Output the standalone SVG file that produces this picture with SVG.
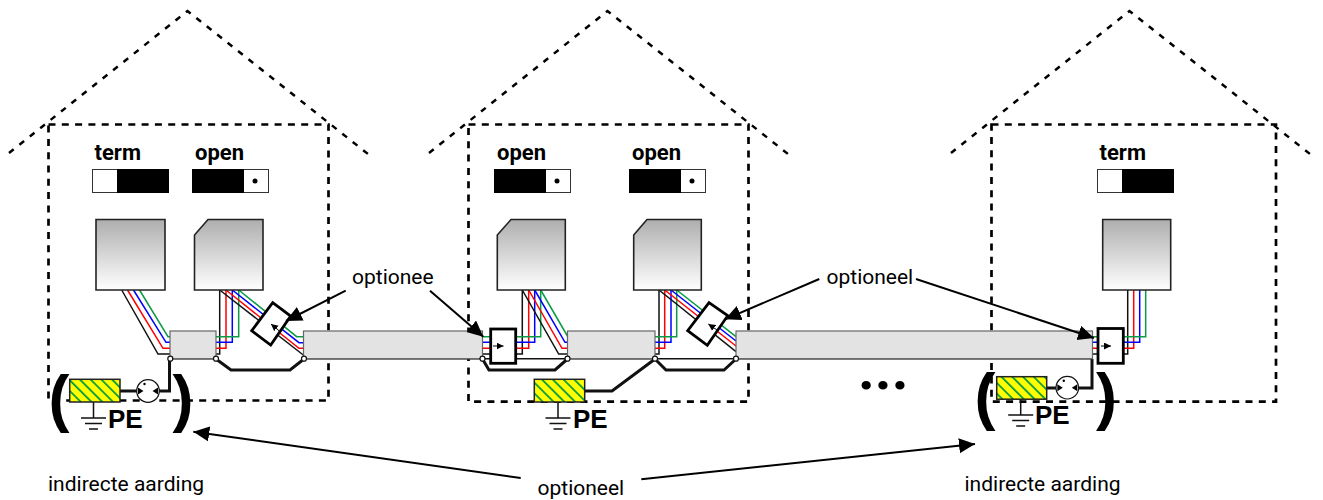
<svg xmlns="http://www.w3.org/2000/svg" width="1323" height="500" viewBox="0 0 1323 500">
<style>
text{font-family:Roboto,"Liberation Sans",sans-serif;fill:#000}
.lbl{font-size:21px}
.sw{font-size:22px;font-weight:700}
.pe{font-family:"Liberation Sans",Arial,sans-serif;font-size:26px;font-weight:700}
.par{font-family:"Liberation Sans",Arial,sans-serif;font-size:63px;font-weight:700}
.roof{fill:none;stroke:#000;stroke-width:2.500;stroke-dasharray:6 7.300}
.room{fill:none;stroke:#000;stroke-width:2.700;stroke-dasharray:7 6.300}
.box{fill:url(#grad);stroke:#222;stroke-width:1.600}
.grey{fill:#e3e3e3;stroke:#666;stroke-width:1.200}
.w{fill:none;stroke-width:1.500}
.k{stroke:#111}.r{stroke:#f00}.b{stroke:#00f}.g{stroke:#0a9b44}
.thick{fill:none;stroke:#111;stroke-width:3}
.thin{fill:none;stroke:#111;stroke-width:1.500}
.node{fill:#fff;stroke:#111;stroke-width:1.200}
.wh{fill:#fff;stroke:#333;stroke-width:1}
.bl{fill:#000;stroke:#000}
.ins{fill:#fff;stroke:#000;stroke-width:2.800}
.call{fill:none;stroke:#000;stroke-width:2;marker-end:url(#big)}
.mini{fill:none;stroke:#000;stroke-width:1;marker-end:url(#small)}
.pebox{fill:url(#hatch);stroke:#222;stroke-width:1.500}
.circ{fill:#fff;stroke:#111;stroke-width:1.200}
</style>
<defs>
<linearGradient id="grad" x1="0" y1="0" x2="0" y2="1"><stop offset="0" stop-color="#aeaeae"/><stop offset="1" stop-color="#fff"/></linearGradient>
<pattern id="hatch" patternUnits="userSpaceOnUse" width="7.600" height="7.600" patternTransform="rotate(-45)"><rect width="7.600" height="7.600" fill="#ff0"/><rect x="0" width="1.800" height="7.600" fill="#0a9b44"/></pattern>
<marker id="big" markerUnits="userSpaceOnUse" markerWidth="18" markerHeight="16" refX="16" refY="7.500" orient="auto"><path d="M0 0L16 7.500L0 15z" fill="#000"/></marker>
<marker id="small" markerUnits="userSpaceOnUse" markerWidth="8" markerHeight="8" refX="7" refY="3.500" orient="auto"><path d="M0 0L7 3.500L0 7z" fill="#000"/></marker>
<g id="gnd"><path class="thin" d="M0 0V16M-12.500 16H12.500M-8.500 21.500H8.500M-4.500 27H4.500"/></g>
<g id="coup"><circle class="circ" r="11.300"/><path d="M-10 -3.500L-4.500 0L-10 3.500zM10 -3.500L4.500 0L10 3.500z" fill="#000"/><circle cx="-3.500" cy="-7" r="1.200" fill="#000"/></g>
</defs>

<g id="house-1"><path class="roof" d="M9 153L187.500 11L368 154"/><rect class="room" x="48.500" y="124.500" width="280" height="276"/></g>
<g id="house-2"><path class="roof" d="M429 153L607.500 11L788 154"/><rect class="room" x="468.500" y="124.500" width="280" height="277.200"/></g>
<g id="house-3"><path class="roof" d="M951 153L1129.500 11L1310 154"/><rect class="room" x="991.500" y="124.500" width="284.500" height="277.200"/></g>

<g id="connectors">
<path class="w k" d="M121.700 290L158 354H170"/><path class="w r" d="M127.500 290L163 348.300H170"/><path class="w b" d="M133.500 290L166 342.300H170"/><path class="w g" d="M139.500 290L168 336.700H170"/>
<path class="w k" d="M219.700 290V354H216"/><path class="w r" d="M226 290V348.300H216"/><path class="w b" d="M232.300 290V342.300H216"/><path class="w g" d="M238.700 290V336.700H216"/>
<path class="w k" d="M219.700 290L303.300 355"/><path class="w r" d="M226 290L299 348.300H303"/><path class="w b" d="M232.300 290L299 342.700H303"/><path class="w g" d="M238.700 290L296.700 336.700H303"/>
<path class="w k" d="M522.300 290V354H483"/><path class="w r" d="M528.700 290V348.300H483"/><path class="w b" d="M534.700 290V342.300H483"/><path class="w g" d="M540.700 290V336.700H483"/>
<path class="w k" d="M522.300 290L558.700 354H568"/><path class="w r" d="M528.700 290L562 348.300H568"/><path class="w b" d="M534.700 290L565 342.300H568"/><path class="w g" d="M540.700 290L568 337"/>
<path class="w k" d="M659 290V354H655"/><path class="w r" d="M664.700 290V348.300H655"/><path class="w b" d="M671 290V342.300H655"/><path class="w g" d="M676.700 290V336.700H655"/>
<path class="w k" d="M659 290L736 351.600"/><path class="w r" d="M664.700 290L736 346"/><path class="w b" d="M671 290L736 341"/><path class="w g" d="M676.700 290L736 336.700"/>
<path class="w k" d="M1127.700 290V354H1093"/><path class="w r" d="M1133.700 290V348.300H1093"/><path class="w b" d="M1139.700 290V342.300H1093"/><path class="w g" d="M1145.700 290V336.700H1093"/>
<path class="thin" d="M170 358.700H216M303 358.700H1092"/>
<path class="thick" d="M216 359L231 370H290L304 359"/>
<path class="thick" d="M482.500 359L489 370H555L567.500 359"/>
<path class="thick" d="M655 359L666 370H724L736 359"/>
<path class="thick" d="M120 391H137M159 391H169.500V359"/>
<path class="thick" d="M584.700 391H612L655 359"/>
<path class="thick" d="M1046.700 388H1056M1078.500 388H1092V359"/>
</g>

<g id="cable-1"><rect class="grey" x="170" y="331" width="46" height="27.700"/></g>
<g id="cable-2"><rect class="grey" x="303.500" y="331" width="179" height="27.700"/></g>
<g id="cable-3"><rect class="grey" x="567.500" y="331" width="87.500" height="27.700"/></g>
<g id="cable-4"><rect class="grey" x="736" y="331" width="356.500" height="27.700"/></g>

<g id="junctions">
<circle class="node" cx="170.300" cy="358.700" r="2.500"/><circle class="node" cx="216" cy="358.700" r="2.500"/><circle class="node" cx="304" cy="358.700" r="2.500"/>
<circle class="node" cx="482.500" cy="358.700" r="2.500"/><circle class="node" cx="567.500" cy="358.700" r="2.500"/><circle class="node" cx="655" cy="358.700" r="2.500"/><circle class="node" cx="736" cy="358.700" r="2.500"/>
</g>

<g id="device-1"><text class="sw" x="94.500" y="160">term</text><rect class="wh" x="92.500" y="169.500" width="76" height="23"/><rect class="bl" x="117.500" y="169.500" width="51" height="23"/><path class="box" d="M96 219.500H165V290H96z"/></g>
<g id="device-2"><text class="sw" x="195" y="160">open</text><rect class="wh" x="192.500" y="169.500" width="76" height="23"/><rect class="bl" x="192.500" y="169.500" width="51" height="23"/><circle cx="255" cy="181" r="2.500" fill="#000"/><path class="box" d="M208 219.500H263V290H194.500V235z"/></g>
<g id="device-3"><text class="sw" x="497" y="160">open</text><rect class="wh" x="494.500" y="169.500" width="76" height="23"/><rect class="bl" x="494.500" y="169.500" width="51" height="23"/><circle cx="557" cy="181" r="2.500" fill="#000"/><path class="box" d="M511 219.500H565.300V290H497.300V235z"/></g>
<g id="device-4"><text class="sw" x="632" y="160">open</text><rect class="wh" x="629.500" y="169.500" width="76" height="23"/><rect class="bl" x="629.500" y="169.500" width="51" height="23"/><circle cx="692" cy="181" r="2.500" fill="#000"/><path class="box" d="M647 219.500H701.300V290H633.700V235z"/></g>
<g id="device-5"><text class="sw" x="1099.500" y="160">term</text><rect class="wh" x="1097.500" y="169.500" width="76" height="23"/><rect class="bl" x="1122.500" y="169.500" width="51" height="23"/><path class="box" d="M1102.700 219.500H1170.700V290H1102.700z"/></g>

<g id="opt-1"><path class="ins" d="M272.700 302.700L290.700 316L270.700 345L251.700 330.700z"/><path class="mini" d="M279 330.700L271 324"/></g>
<g id="opt-2"><rect class="ins" x="490.700" y="329" width="25" height="34.300"/><path class="mini" d="M493 346H503.500"/></g>
<g id="opt-3"><path class="ins" d="M709 302.700L727.700 315.700L707.300 345.300L687.700 330.700z"/><path class="mini" d="M718 330.700L708.300 324"/></g>
<g id="opt-4"><rect class="ins" x="1098" y="328.500" width="25.300" height="34.800"/><path class="mini" d="M1101 346H1111"/></g>

<g id="pe-1"><use href="#gnd" x="93.500" y="402"/><rect class="pebox" x="69.700" y="379.300" width="50.300" height="22.700"/><use href="#coup" x="148" y="391"/><text class="pe" x="108" y="428">PE</text></g>
<g id="pe-2"><use href="#gnd" x="558" y="402"/><rect class="pebox" x="534.300" y="379.300" width="50.400" height="22.700"/><text class="pe" x="573" y="428">PE</text></g>
<g id="pe-3"><use href="#gnd" x="1020.700" y="399"/><rect class="pebox" x="996.700" y="376.700" width="50" height="22.500"/><use href="#coup" x="1067.300" y="387.700"/><text class="pe" x="1035" y="424">PE</text></g>

<g id="brackets">
<text class="par" x="48.500" y="419.500">(</text><text class="par" x="172.500" y="419.500">)</text>
<text class="par" x="974.500" y="417.500">(</text><text class="par" x="1096" y="417.500">)</text>
</g>

<g id="callouts">
<path class="call" d="M345.700 290.700L286 321"/>
<path class="call" d="M430 290.700L483.300 336.700"/>
<path class="call" d="M819.300 279L725 319.300"/>
<path class="call" d="M916 279L1094 338"/>
<path class="call" d="M520.700 478L193.300 431.700"/>
<path class="call" d="M641.300 479.300L975 444"/>
</g>

<g id="labels">
<text class="lbl" x="352" y="283.500">optionee</text>
<text class="lbl" x="826.500" y="283.500">optioneel</text>
<text class="lbl" x="537.500" y="495">optioneel</text>
<text class="lbl" x="48" y="491">indirecte aarding</text>
<text class="lbl" x="964.500" y="491">indirecte aarding</text>
<text x="858" y="389" font-size="58" font-weight="700">...</text>
</g>
</svg>
